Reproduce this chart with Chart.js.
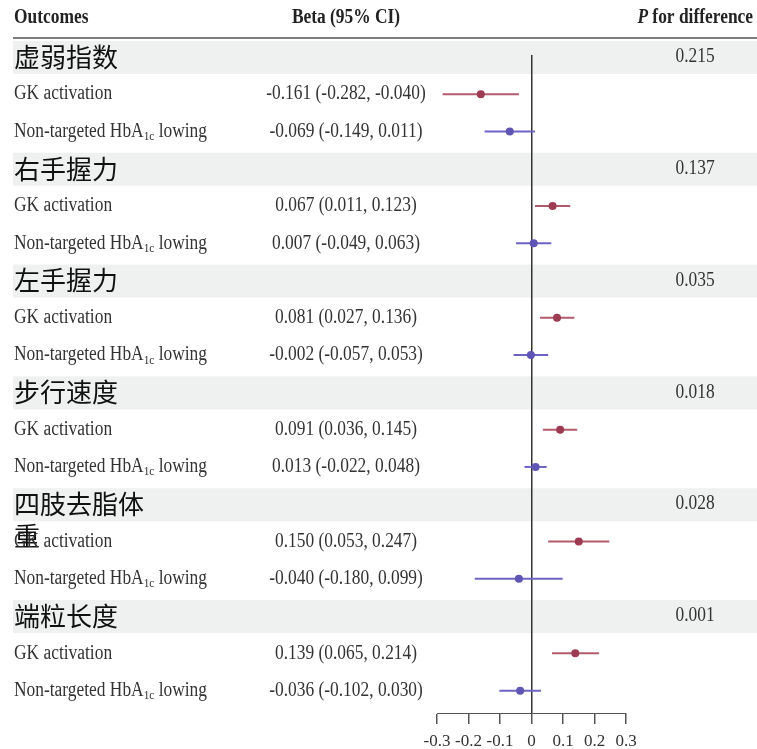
<!DOCTYPE html>
<html>
<head>
<meta charset="utf-8">
<script src="https://cdn.jsdelivr.net/npm/chart.js@4"></script>
<style>
  body { margin: 0; background: #fff; }
  #wrap { width: 757px; height: 749px; }
</style>
</head>
<body>
<div id="wrap"><canvas id="forestChart"></canvas></div>
<script>
// Datos del gráfico
const groups = ['虚弱指数', '右手握力', '左手握力', '步行速度', '四肢去脂体重', '端粒长度'];
const pValues = ['0.215', '0.137', '0.035', '0.018', '0.028', '0.001'];
const gkBeta = [-0.161, 0.067, 0.081, 0.091, 0.150, 0.139];
const gkLow = [-0.282, 0.011, 0.027, 0.036, 0.053, 0.065];
const gkHigh = [-0.040, 0.123, 0.136, 0.145, 0.247, 0.214];
const ntBeta = [-0.069, 0.007, -0.002, 0.013, -0.040, -0.036];
const ntLow = [-0.149, -0.049, -0.057, -0.022, -0.180, -0.102];
const ntHigh = [0.011, 0.063, 0.053, 0.048, 0.099, 0.030];
const xTicks = [-0.3, -0.2, -0.1, 0, 0.1, 0.2, 0.3];

const serif = '"Liberation Serif", "Times New Roman", serif';
const gkLine = '#b45a6d';
const gkDot = '#9c3b51';
const ntLine = '#6d64c6';
const ntDot = '#5f55b5';

function fmt(v) {
    return v.toFixed(3);
}

// Texto serif algo estrecho, como en la figura
function drawText(ctx, text, x, y, align, font) {
    ctx.save();
    ctx.font = font;
    ctx.textAlign = align;
    ctx.textBaseline = 'middle';
    ctx.translate(x, y);
    ctx.scale(0.87, 1);
    ctx.fillText(text, 0, 0);
    const w = ctx.measureText(text).width * 0.87;
    ctx.restore();
    return w;
}

function wrapChars(ctx, text, maxWidth) {
    const lines = [];
    let line = '';
    for (const ch of text) {
        if (line && ctx.measureText(line + ch).width > maxWidth) {
            lines.push(line);
            line = ch;
        } else {
            line += ch;
        }
    }
    lines.push(line);
    return lines;
}

const tablePlugin = {
    id: 'table',
    beforeDraw(chart) {
        const { ctx, scales: { y } } = chart;
        ctx.save();
        ctx.fillStyle = '#fff';
        ctx.fillRect(0, 0, chart.width, chart.height);
        // bandas grises de cada grupo
        ctx.fillStyle = '#eef1f0';
        groups.forEach((g, i) => {
            const py = y.getPixelForValue(3 * i);
            ctx.fillRect(13, py - 16, chart.width - 13, 33);
        });
        // línea bajo los encabezados
        ctx.fillStyle = '#7c7c7c';
        ctx.fillRect(13, 37, chart.width - 13, 2);
        ctx.restore();
    },
    afterDraw(chart) {
        const { ctx, scales: { y } } = chart;
        const normal = `20px ${serif}`;
        const bold = `bold 20px ${serif}`;
        ctx.save();
        ctx.fillStyle = '#222';
        drawText(ctx, 'Outcomes', 14, 18, 'left', bold);
        drawText(ctx, 'Beta (95% CI)', 346, 18, 'center', bold);
        ctx.font = bold;
        const wRest = ctx.measureText(' for difference').width * 0.87;
        drawText(ctx, ' for difference', 753, 18, 'right', bold);
        drawText(ctx, 'P', 753 - wRest, 18, 'right', `italic bold 20px ${serif}`);

        groups.forEach((g, i) => {
            const hy = y.getPixelForValue(3 * i);
            const gy = y.getPixelForValue(3 * i + 1);
            const ny = y.getPixelForValue(3 * i + 2);

            // nombre del grupo
            ctx.fillStyle = '#111';
            ctx.font = '26px "Noto Sans CJK SC", sans-serif';
            ctx.textAlign = 'left';
            ctx.textBaseline = 'middle';
            wrapChars(ctx, g, 135).forEach((line, k) => {
                ctx.fillText(line, 14, hy + k * 32);
            });

            ctx.fillStyle = '#333';
            drawText(ctx, pValues[i], 695, hy, 'center', normal);

            drawText(ctx, 'GK activation', 14, gy, 'left', normal);
            let w = drawText(ctx, 'Non-targeted HbA', 14, ny, 'left', normal);
            w += drawText(ctx, '1c', 14 + w, ny + 5, 'left', `13px ${serif}`);
            drawText(ctx, ' lowing', 14 + w, ny, 'left', normal);

            drawText(ctx, `${fmt(gkBeta[i])} (${fmt(gkLow[i])}, ${fmt(gkHigh[i])})`, 346, gy, 'center', normal);
            drawText(ctx, `${fmt(ntBeta[i])} (${fmt(ntLow[i])}, ${fmt(ntHigh[i])})`, 346, ny, 'center', normal);
        });
        ctx.restore();
    }
};

// Intervalos de confianza como segmentos
const ciSets = [];
groups.forEach((g, i) => {
    ciSets.push({
        data: [{ x: gkLow[i], y: 3 * i + 1 }, { x: gkHigh[i], y: 3 * i + 1 }],
        showLine: true, borderColor: gkLine, borderWidth: 2, pointRadius: 0
    });
    ciSets.push({
        data: [{ x: ntLow[i], y: 3 * i + 2 }, { x: ntHigh[i], y: 3 * i + 2 }],
        showLine: true, borderColor: ntLine, borderWidth: 2, pointRadius: 0
    });
});

const ctx = document.getElementById('forestChart').getContext('2d');
const forestChart = new Chart(ctx, {
    type: 'scatter',
    data: {
        datasets: [
            {
                label: 'GK activation',
                data: gkBeta.map((v, i) => ({ x: v, y: 3 * i + 1 })),
                backgroundColor: gkDot, borderWidth: 0, pointRadius: 4
            },
            {
                label: 'Non-targeted HbA1c lowing',
                data: ntBeta.map((v, i) => ({ x: v, y: 3 * i + 2 })),
                backgroundColor: ntDot, borderWidth: 0, pointRadius: 4
            },
            ...ciSets
        ]
    },
    options: {
        responsive: true,
        maintainAspectRatio: false,
        animation: false,
        layout: { padding: { left: 437, right: 131, top: 55, bottom: 0 } },
        plugins: { legend: { display: false }, tooltip: { enabled: false } },
        scales: {
            x: {
                type: 'linear',
                min: -0.3,
                max: 0.3,
                afterBuildTicks: scale => { scale.ticks = xTicks.map(v => ({ value: v })); },
                afterFit: scale => { scale.height = 36; },
                grid: {
                    color: c => (c.tick && Math.abs(c.tick.value) < 1e-9 ? '#333' : 'transparent'),
                    lineWidth: 1.5,
                    tickColor: '#555',
                    tickLength: 11,
                    drawTicks: true
                },
                border: { display: true, color: '#555', width: 1 },
                ticks: {
                    padding: 7,
                    color: '#333',
                    maxRotation: 0,
                    minRotation: 0,
                    autoSkip: false,
                    font: { family: serif, size: 17 },
                    callback: v => String(v)
                }
            },
            y: {
                type: 'linear',
                reverse: true,
                min: -0.05,
                max: 17.6,
                display: false
            }
        }
    },
    plugins: [tablePlugin]
});
</script>
</body>
</html>
